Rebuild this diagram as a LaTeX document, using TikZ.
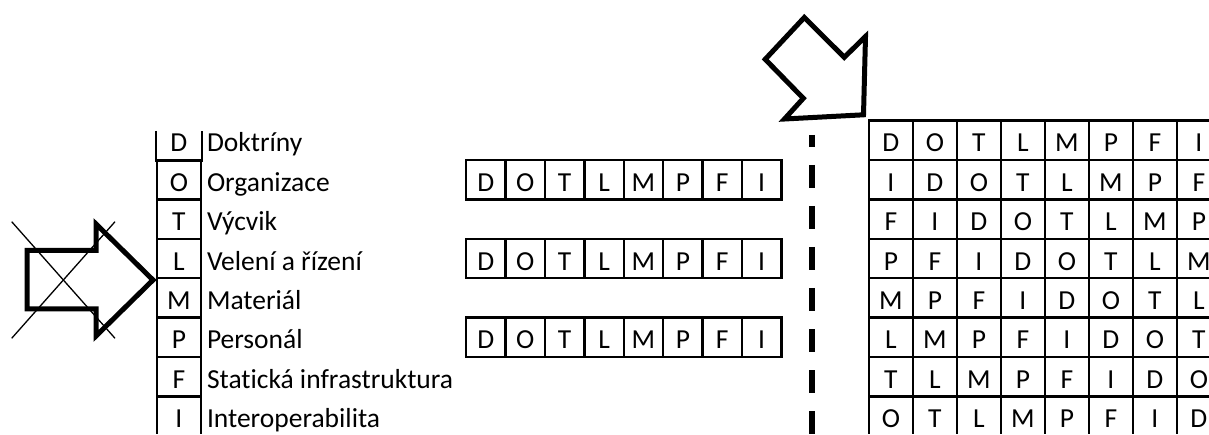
\documentclass[tikz,border=0pt]{standalone}
\usepackage{fontspec}
\setmainfont{Carlito}[Ligatures=NoCommon]
\begin{document}
\begin{tikzpicture}[x=1pt,y=-1pt,
  every node/.style={font=\fontsize{27.5}{30}\selectfont},
  cellbox/.style={draw=black, line width=2.3pt, minimum width=#1, minimum height=39.4pt,
    inner sep=0pt, text height=29.5pt, text depth=6.5pt, anchor=north west},
  cellbox/.default=44pt,
  opencell/.style={cellbox=#1, draw=none},
  frameline/.style={draw=black, line width=2.3pt},
  labeltext/.style={anchor=base west, inner sep=0pt},
  bigarrow/.style={draw=black, line width=5pt, line join=miter, fill=white},
  crossline/.style={draw=black, line width=1.3pt},
  divider/.style={draw=black, line width=5.5pt, dash pattern=on 23pt off 18pt, dash phase=11pt}]
\useasboundingbox (0,0) rectangle (1209,435);
\clip (0,0) rectangle (1209,433.5);
% left column with labels
\node[opencell=43.5pt] (l0) at (156,119.5) {D};
\draw[frameline] ([yshift=-11.5pt]l0.north west) -- (l0.south west) -- (l0.south east) -- ([yshift=-11.5pt]l0.north east);
\node[labeltext] (lab0) at ([xshift=5pt]l0.base east) {Doktríny};
\foreach \ch/\lab [count=\k from 1] in {O/Organizace, T/Výcvik, L/Velení a řízení, M/Materiál, P/Personál, F/Statická infrastruktura, I/Interoperabilita}{
  \node[cellbox=43.5pt] (l\k) at (156,{119.5+39.4*\k}) {\ch};
  \node[labeltext] (lab\k) at ([xshift=5pt]l\k.base east) {\lab};
}
% middle rows
\foreach \k in {1,3,5}{
  \foreach \ch [count=\j from 0] in {D,O,T,L,M,P,F,I}{
    \node[cellbox=39.4pt] (m\k-\j) at ({465+39.4*\j},{119.5+39.4*\k}) {\ch};
  }
}
% right grid
\foreach \k/\row in {0/{D,O,T,L,M,P,F,I},1/{I,D,O,T,L,M,P,F},2/{F,I,D,O,T,L,M,P},3/{P,F,I,D,O,T,L,M},4/{M,P,F,I,D,O,T,L},5/{L,M,P,F,I,D,O,T},6/{T,L,M,P,F,I,D,O},7/{O,T,L,M,P,F,I,D}}{
  \foreach \ch [count=\j from 0] in \row {
    \node[cellbox=44pt] (g\k-\j) at ({867.7+44*\j},{119.5+39.4*\k}) {\ch};
  }
}
% dashed divider
\coordinate (dtop) at (812,135);
\coordinate (dbot) at (812,436);
\draw[divider] (dtop) -- (dbot);
% left crossed arrow
\draw[bigarrow] (27,250.5) -- (96,250.5) -- (96,224) -- (153,280) -- (96,336) -- (96,309) -- (27,309) -- cycle;
\draw[crossline] (11.7,221.7) -- (115,338.3);
\draw[crossline] (11.7,338.3) -- (115,221.7);
% top diagonal arrow
\draw[bigarrow] (804.3,17.5) -- (844.3,57.3) -- (865.5,36.5) -- (863.5,114.8) -- (784.5,119) -- (803.3,98.3) -- (765.2,59.3) -- cycle;
\end{tikzpicture}
\end{document}
